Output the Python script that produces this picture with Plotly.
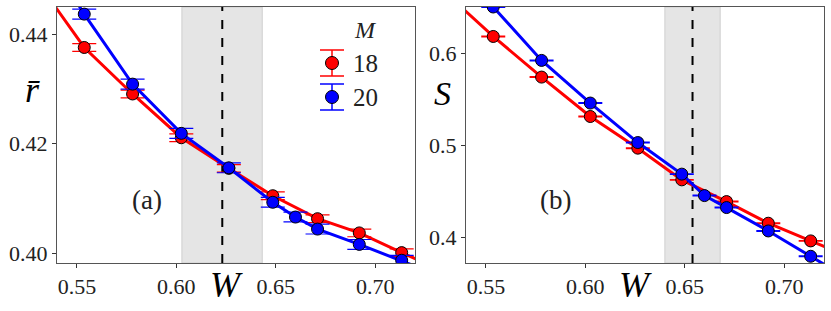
import plotly.graph_objects as go

# ---------------- data ----------------
W_red = [0.529, 0.5537, 0.578, 0.6025, 0.6264, 0.6485, 0.671, 0.692, 0.7133, 0.735]
W_blue = [0.529, 0.5537, 0.578, 0.6025, 0.6264, 0.6485, 0.6599, 0.671, 0.692, 0.7133, 0.735]

r_red = [0.4502, 0.4376, 0.4291, 0.4211, 0.4155, 0.4105, 0.4063, 0.4037, 0.4001, 0.3965]
r_red_err = [0.0007] * len(r_red)
r_blue = [0.458, 0.4437, 0.4309, 0.4219, 0.4156, 0.4093, 0.4066, 0.4044, 0.4016, 0.3987, 0.3955]
r_blue_err = [0.0009] * len(r_blue)

S_red = [0.667, 0.618, 0.5739, 0.5311, 0.4967, 0.4623, 0.4387, 0.4152, 0.396, 0.3767]
S_red_err = [0.0004] * len(S_red)
S_blue = [0.709, 0.650, 0.592, 0.5457, 0.5028, 0.4685, 0.4452, 0.4322, 0.4068, 0.3793, 0.351]
S_blue_err = [0.0004] * len(S_blue)

x_ticks = [0.55, 0.60, 0.65, 0.70]
x_ticktext = ["0.55", "0.60", "0.65", "0.70"]
ya_ticks = [0.40, 0.42, 0.44]
ya_ticktext = ["0.40", "0.42", "0.44"]
yb_ticks = [0.4, 0.5, 0.6]
yb_ticktext = ["0.4", "0.5", "0.6"]

band_a = [0.6028, 0.6432]
crit_a = 0.6231
band_b = [0.640, 0.6678]
crit_b = 0.6539

sizes = ["18", "20"]
colors = ["#ff0000", "#0000ff"]

# ---------------- figure ----------------
FONT = "Liberation Serif, DejaVu Serif, serif"
fig = go.Figure()


def add_series(x, y, err, color, xa, ya):
    fig.add_trace(go.Scatter(
        x=x, y=y, mode="lines+markers",
        line=dict(color=color, width=3),
        marker=dict(size=12, color=color, line=dict(color="black", width=1)),
        error_y=dict(type="data", array=err, visible=True, color=color,
                     thickness=1.2, width=12),
        xaxis=xa, yaxis=ya, showlegend=False, cliponaxis=True,
    ))


add_series(W_red, r_red, r_red_err, colors[0], "x", "y")
add_series(W_blue, r_blue, r_blue_err, colors[1], "x", "y")
add_series(W_red, S_red, S_red_err, colors[0], "x2", "y2")
add_series(W_blue, S_blue, S_blue_err, colors[1], "x2", "y2")

W_px = 831
H_px = 311
yd = [(H_px - 263) / H_px, (H_px - 7) / H_px]

axis_common = dict(
    showline=True, linecolor="#555555", linewidth=1, mirror=True,
    ticks="outside", ticklen=4, tickcolor="#333333", tickwidth=1,
    showgrid=False, zeroline=False, automargin=False,
    tickfont=dict(family=FONT, size=22, color="#222222"),
)

fig.update_layout(
    template="none",
    width=W_px, height=H_px,
    margin=dict(l=0, r=0, t=0, b=0, autoexpand=False),
    paper_bgcolor="white", plot_bgcolor="white",
    showlegend=False,
    font=dict(family=FONT),
    xaxis=dict(domain=[57 / W_px, 415 / W_px], range=[0.54, 0.72],
               tickvals=x_ticks, ticktext=x_ticktext, anchor="y", **axis_common),
    yaxis=dict(domain=yd, range=[0.3982, 0.445],
               tickvals=ya_ticks, ticktext=ya_ticktext, anchor="x", **axis_common),
    xaxis2=dict(domain=[466 / W_px, 824 / W_px], range=[0.54, 0.72],
                tickvals=x_ticks, ticktext=x_ticktext, anchor="y2", **axis_common),
    yaxis2=dict(domain=yd, range=[0.372, 0.650],
                tickvals=yb_ticks, ticktext=yb_ticktext, anchor="x2", **axis_common),
)

shapes = []
for xr, yr, band, crit in [("x", "y", band_a, crit_a), ("x2", "y2", band_b, crit_b)]:
    shapes.append(dict(type="rect", xref=xr, yref=yr + " domain",
                       x0=band[0], x1=band[1], y0=0, y1=1,
                       fillcolor="#e5e5e5", line=dict(color="#cfcfcf", width=1),
                       layer="below"))
    shapes.append(dict(type="line", xref=xr, yref=yr + " domain",
                       x0=crit, x1=crit, y0=0, y1=1,
                       line=dict(color="black", width=2, dash="dash"),
                       layer="below"))

# legend (drawn manually: marker with vertical error bar)
leg_x = (332 - 57) / 358
leg_ys = [(263 - 63) / 256, (263 - 97) / 256]
for c, ly in zip(colors, leg_ys):
    shapes.append(dict(type="line", xref="x domain", yref="y domain",
                       xsizemode="pixel", ysizemode="pixel",
                       xanchor=leg_x, yanchor=ly, x0=0, x1=0, y0=-13, y1=13,
                       line=dict(color=c, width=1.5)))
    for cy in (-13, 13):
        shapes.append(dict(type="line", xref="x domain", yref="y domain",
                           xsizemode="pixel", ysizemode="pixel",
                           xanchor=leg_x, yanchor=ly, x0=-12, x1=12, y0=cy, y1=cy,
                           line=dict(color=c, width=1.5)))
    shapes.append(dict(type="circle", xref="x domain", yref="y domain",
                       xsizemode="pixel", ysizemode="pixel",
                       xanchor=leg_x, yanchor=ly, x0=-6.5, x1=6.5, y0=-6.5, y1=6.5,
                       fillcolor=c, line=dict(color="black", width=1)))
fig.update_layout(shapes=shapes)

ann = []


def A(text, xref, yref, x, y, size, color="#222222", xanchor="center"):
    ann.append(dict(text=text, xref=xref, yref=yref, x=x, y=y,
                    xanchor=xanchor, yanchor="middle", showarrow=False,
                    font=dict(family=FONT, size=size, color=color)))


A("<i>M</i>", "x domain", "y domain", (365 - 57) / 358, (263 - 30) / 256, 24)
for s, ly in zip(sizes, leg_ys):
    A(s, "x domain", "y domain", (351 - 57) / 358, ly, 25, xanchor="left")
A("(a)", "x domain", "y domain", (147 - 57) / 358, (263 - 200) / 256, 27)
A("(b)", "x2 domain", "y2 domain", (555 - 466) / 358, (263 - 200) / 256, 27)
A("<i>r\u0304</i>", "paper", "paper", 32 / W_px, (H_px - 90) / H_px, 36, "black")
A("<i>S</i>", "paper", "paper", 443 / W_px, (H_px - 93) / H_px, 34, "black")
for wx in (227, 635):
    A("<i>W</i>", "paper", "paper", wx / W_px, (H_px - 285) / H_px, 36, "black")
fig.update_layout(annotations=ann)

fig.write_html(
    "out.html",
    config={"displayModeBar": False},
    post_script="document.body.style.margin='0';document.body.style.padding='0';",
)
